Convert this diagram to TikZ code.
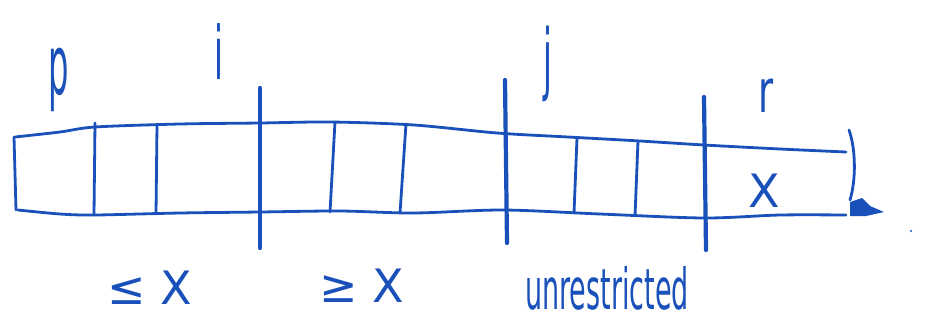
\documentclass[tikz,border=0pt]{standalone}
\usepackage{fontspec}
\setmainfont{DejaVu Sans}
\definecolor{pen}{RGB}{25,80,185}
\tikzset{
  ink/.style={draw=pen, line width=2.8pt, line cap=round, line join=round},
  thickink/.style={draw=pen, line width=4.2pt, line cap=round},
  lbl/.style={text=pen, inner sep=0pt, font=\fontsize{46}{50}\selectfont},
}
\begin{document}
\begin{tikzpicture}[x=1pt, y=-1pt]
\useasboundingbox (0,0) rectangle (928,330);
% frame
\draw[ink] plot[smooth] coordinates {(15,137) (60,132) (95,127) (180,124) (260,123) (331,122) (414,125) (497,133) (568,137) (640,141) (704,145) (780,149) (846,152)};
\draw[ink] plot[smooth] coordinates {(18,210) (60,214) (95,215) (180,213) (260,212) (340,211) (414,213) (503,210) (600,214) (704,218) (780,215) (846,215)};
\draw[ink] (14,137) -- (16,210);
\draw[ink] (849,130) .. controls (856,150) and (856,180) .. (850,200);
% thin dividers
\draw[ink] (95,123) -- (94,215);
\draw[ink] (157,125) -- (156,214);
\draw[ink] (335,122) -- (330,212);
\draw[ink] (406,124) -- (400,213);
\draw[ink] (577,138) -- (574,213);
\draw[ink] (638,141) -- (635,216);
% thick dividers
\draw[thickink] (260,88) -- (260,248);
\draw[thickink] (505,80) -- (507,243);
\draw[thickink] (704,97) -- (706,250);
% blob at the right end
\fill[pen] (850,202) -- (862,198) -- (870,206) -- (884,212) -- (866,216) -- (850,216) -- cycle;
\fill[pen] (911,231) circle (1.2);
% labels
\node[lbl] (p) at (59,80) {\scalebox{0.7}[1.8]{p}};
\node[lbl] (i) at (219,52) {\scalebox{0.7}[1.6]{i}};
\node[lbl] (j) at (548,64) {\scalebox{0.7}[1.7]{j}};
\node[lbl] (r) at (766,96) {\scalebox{0.8}[1.3]{r}};
\node[lbl] (x) at (764,191) {X};
\node[lbl] (le) at (150,288) {≤ X};
\node[lbl] (ge) at (362,286) {≥ X};
\node[lbl, font=\fontsize{27}{30}\selectfont] (un) at (607,288) {\scalebox{1}[2.1]{unrestricted}};
\end{tikzpicture}
\end{document}
